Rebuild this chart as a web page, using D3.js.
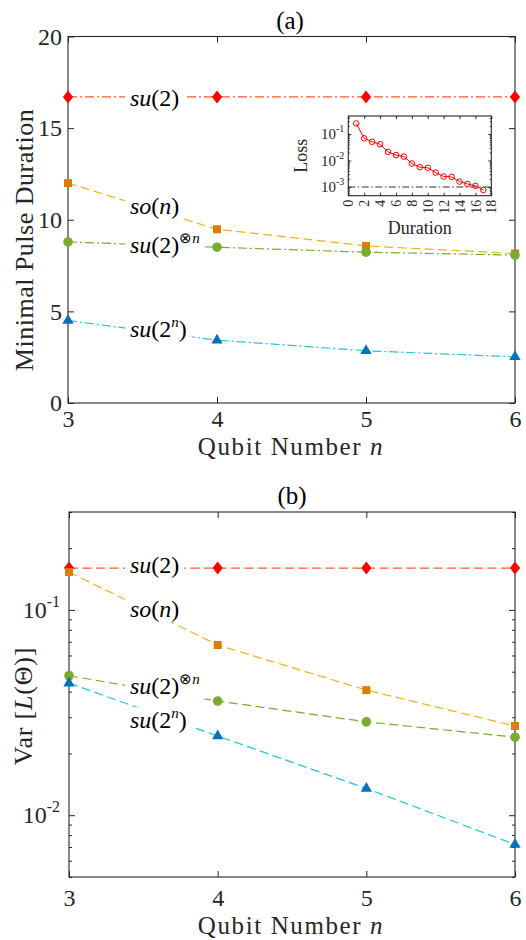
<!DOCTYPE html>
<html>
<head>
<meta charset="utf-8">
<script src="https://cdn.jsdelivr.net/npm/d3@7"></script>
<style>
  body { margin: 0; background: #fff; }
  text { font-family: "Liberation Serif", "Times New Roman", serif; }
</style>
</head>
<body>
<script>
// x values shared by both panels
const qubits = [3, 4, 5, 6]

// (a) minimal pulse duration
const durSu2 = [16.7, 16.7, 16.7, 16.7]
const durSo = [12.0, 9.48, 8.57, 8.16]
const durSu2Tensor = [8.79, 8.5, 8.23, 8.07]
const durSu2Pow = [4.5, 3.43, 2.85, 2.52]
const durTicks = [0, 5, 10, 15, 20]

// (b) variance of the loss
const varSu2 = [0.16, 0.16, 0.16, 0.16]
const varSo = [0.153, 0.0675, 0.0407, 0.0272]
const varSu2Tensor = [0.0478, 0.036, 0.0285, 0.024]
const varSu2Pow = [0.044, 0.0243, 0.0135, 0.0072]
const varTicks = [0.01, 0.1]

// inset: loss vs duration
const insetDuration = [1, 2, 3, 4, 5, 6, 7, 8, 9, 10, 11, 12, 13, 14, 15, 16, 17]
const insetLoss = [0.25, 0.069, 0.051, 0.041, 0.021, 0.016, 0.014, 0.0077, 0.0056, 0.0053,
  0.0035, 0.0025, 0.0024, 0.0016, 0.0013, 0.0011, 0.00077]
const lossTarget = 0.001
const insetXTicks = [0, 2, 4, 6, 8, 10, 12, 14, 16, 18]
const insetYTicks = [0.001, 0.01, 0.1]

const ink = '#262626'

// marker shapes
const diamond = {
  draw(ctx, size) {
    const h = Math.sqrt(size) * 0.62, w = h * 0.78
    ctx.moveTo(0, -h); ctx.lineTo(w, 0); ctx.lineTo(0, h); ctx.lineTo(-w, 0); ctx.closePath()
  }
}

const styles = {
  su2: { marker: '#ff0000', line: '#ff5a28', symbol: diamond, size: 110 },
  so: { marker: '#e07b0a', line: '#edb120', symbol: d3.symbolSquare, size: 64 },
  su2Tensor: { marker: '#77ac30', line: '#77ac30', symbol: d3.symbolCircle, size: 72 },
  su2Pow: { marker: '#0072bd', line: '#22c5dc', symbol: d3.symbolTriangle, size: 55 }
}

const dashDot = '9,3,2,3'
const dashed = '9,4.5'

const svg = d3.select('body').append('svg')
  .attr('width', 526)
  .attr('height', 940)

function minorTicks(lo, hi) {
  const out = []
  for (let e = -5; e <= 1; e++) {
    for (let m = 2; m <= 9; m++) {
      const v = m * Math.pow(10, e)
      if (v >= lo * 0.999 && v <= hi * 1.001) out.push(v)
    }
  }
  return out
}

function powerLabels(sel, sup, dy) {
  sel.selectAll('text').each(function (d) {
    const t = d3.select(this).text(null)
    t.append('tspan').text('10')
    t.append('tspan').attr('dy', dy).attr('font-size', sup).text(Math.round(Math.log10(d)))
  })
}

function frame(g, x, y, w, h, opt) {
  // bottom
  const bottom = g.append('g')
    .attr('transform', `translate(0,${h})`)
    .call(d3.axisBottom(x).tickValues(opt.xTicks).tickSizeInner(-opt.tick).tickSizeOuter(0)
      .tickPadding(opt.xPad).tickFormat(opt.xFormat))
    .attr('color', ink).attr('font-size', opt.font).attr('font-family', null)
  g.append('g')
    .call(d3.axisTop(x).tickValues(opt.xTicks).tickSizeInner(-opt.tick).tickSizeOuter(0).tickFormat(''))
    .attr('color', ink)
  // left
  const left = g.append('g')
    .call(d3.axisLeft(y).tickValues(opt.yTicks).tickSizeInner(-opt.tick).tickSizeOuter(0)
      .tickPadding(opt.yPad).tickFormat(opt.log ? '' : d3.format('d')))
    .attr('color', ink).attr('font-size', opt.font).attr('font-family', null)
  if (opt.log) powerLabels(left, opt.sup, opt.supDy)
  g.append('g')
    .attr('transform', `translate(${w},0)`)
    .call(d3.axisRight(y).tickValues(opt.yTicks).tickSizeInner(-opt.tick).tickSizeOuter(0).tickFormat(''))
    .attr('color', ink)
  if (opt.log) {
    const mt = minorTicks(y.domain()[0], y.domain()[1])
    g.append('g')
      .call(d3.axisLeft(y).tickValues(mt).tickSizeInner(-opt.tick / 2).tickSizeOuter(0).tickFormat(''))
      .attr('color', ink)
    g.append('g').attr('transform', `translate(${w},0)`)
      .call(d3.axisRight(y).tickValues(mt).tickSizeInner(-opt.tick / 2).tickSizeOuter(0).tickFormat(''))
      .attr('color', ink)
  }
  g.selectAll('.domain').remove()
  g.selectAll('.tick line').attr('stroke-width', 1)
  g.append('rect')
    .attr('width', w).attr('height', h)
    .attr('fill', 'none').attr('stroke', ink).attr('stroke-width', 1.1)
  return bottom
}

function series(g, x, y, values, st, dash) {
  const pts = qubits.map((q, i) => [q, values[i]])
  g.append('path')
    .datum(pts)
    .attr('fill', 'none')
    .attr('stroke', st.line)
    .attr('stroke-width', 1.2)
    .attr('stroke-dasharray', dash)
    .attr('d', d3.line().x(d => x(d[0])).y(d => y(d[1])))
  return pts
}

function markers(g, x, y, pts, st) {
  g.selectAll(null).data(pts).enter().append('path')
    .attr('transform', d => `translate(${x(d[0])},${y(d[1])})`)
    .attr('fill', st.marker)
    .attr('d', d3.symbol().type(st.symbol).size(st.size))
}

// math-style label with white box; parts: [text, italic, sup]
function label(g, px, py, parts) {
  const t = g.append('text').attr('x', px).attr('y', py).attr('font-size', 24).attr('fill', '#000')
  let raised = false
  parts.forEach(p => {
    const s = t.append('tspan').text(p[0])
    if (p[1]) s.attr('font-style', 'italic')
    if (p[2] && !raised) { s.attr('dy', -10).attr('font-size', 15); raised = true }
    else if (!p[2] && raised) { s.attr('dy', 10); raised = false }
    else if (p[2]) s.attr('font-size', 15)
  })
  const b = t.node().getBBox()
  g.insert('rect', () => t.node())
    .attr('x', b.x - 5).attr('y', b.y + 2).attr('width', b.width + 10).attr('height', b.height - 2)
    .attr('fill', '#fff')
}

const su2Parts = [['su', true], ['(2)', false]]
const soParts = [['so', true], ['(', false], ['n', true], [')', false]]
const tensorParts = [['su', true], ['(2)', false], ['\u2297', false, true], ['n', true, true]]
const powParts = [['su', true], ['(2', false], ['n', true, true], [')', false]]

// ---------- panel (a) ----------
const A = { left: 68, top: 36.5, w: 447, h: 366.5 }
const ga = svg.append('g').attr('transform', `translate(${A.left},${A.top})`)
const xa = d3.scaleLinear().domain([3, 6]).range([0, A.w])
const ya = d3.scaleLinear().domain([0, 20]).range([A.h, 0])

frame(ga, xa, ya, A.w, A.h, {
  xTicks: qubits, yTicks: durTicks, tick: 6, font: 24, xPad: 7, yPad: 6,
  xFormat: d3.format('d'), log: false
})

const aSets = [
  [durSu2, styles.su2, dashDot],
  [durSo, styles.so, dashed],
  [durSu2Tensor, styles.su2Tensor, dashDot],
  [durSu2Pow, styles.su2Pow, dashDot]
]
const aPts = aSets.map(s => series(ga, xa, ya, s[0], s[1], s[2]))

const labA = ga.append('g')
label(labA, xa(3.416), ya(16.19), su2Parts)
label(labA, xa(3.416), ya(10.3), soParts)
label(labA, xa(3.416), ya(8.17), tensorParts)
label(labA, xa(3.416), ya(3.6), powParts)

aSets.forEach((s, i) => markers(ga, xa, ya, aPts[i], s[1]))

// inset
const I = { left: 348.3, top: 116, w: 143, h: 79.7 }
const gi = svg.append('g').attr('transform', `translate(${I.left},${I.top})`)
const xi = d3.scaleLinear().domain([0, 18]).range([0, I.w])
const yi = d3.scaleLog().domain([Math.pow(10, -3.33), Math.pow(10, -0.32)]).range([I.h, 0])
gi.append('rect').attr('width', I.w).attr('height', I.h).attr('fill', '#fff')

const insetBottom = frame(gi, xi, yi, I.w, I.h, {
  xTicks: insetXTicks, yTicks: insetYTicks, tick: 3, font: 15, xPad: 4, yPad: 4,
  xFormat: d3.format('d'), log: true, sup: 10, supDy: -7
})
// duration tick labels stand upright
insetBottom.selectAll('text')
  .attr('font-size', 14)
  .attr('transform', 'rotate(-90)')
  .attr('x', -4).attr('y', 0).attr('dy', '0.33em')
  .attr('text-anchor', 'end')

gi.append('line')
  .attr('x1', xi(0)).attr('x2', xi(18))
  .attr('y1', yi(lossTarget)).attr('y2', yi(lossTarget))
  .attr('stroke', '#333').attr('stroke-width', 1.1).attr('stroke-dasharray', '7,2.5,1.5,2.5')

const lossPts = insetDuration.map((d, i) => [d, insetLoss[i]])
gi.append('path')
  .datum(lossPts)
  .attr('fill', 'none').attr('stroke', '#ff0000').attr('stroke-width', 1)
  .attr('d', d3.line().x(d => xi(d[0])).y(d => yi(d[1])))
gi.selectAll(null).data(lossPts).enter().append('circle')
  .attr('cx', d => xi(d[0])).attr('cy', d => yi(d[1])).attr('r', 2.8)
  .attr('fill', 'none').attr('stroke', '#ff0000').attr('stroke-width', 1)

gi.append('text')
  .attr('transform', `translate(-41,${I.h / 2}) rotate(-90)`)
  .attr('text-anchor', 'middle').attr('font-size', 18).attr('fill', ink)
  .text('Loss')
gi.append('text')
  .attr('x', I.w / 2).attr('y', 118)
  .attr('text-anchor', 'middle').attr('font-size', 18).attr('fill', ink)
  .text('Duration')

// titles and axis labels (a)
svg.append('text').attr('x', 290).attr('y', 29).attr('text-anchor', 'middle')
  .attr('font-size', 25).attr('fill', '#000').text('(a)')
svg.append('text')
  .attr('transform', 'translate(33,240) rotate(-90)')
  .attr('text-anchor', 'middle').attr('font-size', 26).attr('letter-spacing', 0.5).attr('fill', ink)
  .text('Minimal Pulse Duration')
const xla = svg.append('text').attr('x', 291).attr('y', 455).attr('text-anchor', 'middle')
  .attr('font-size', 25).attr('letter-spacing', 1.6).attr('fill', ink)
xla.append('tspan').text('Qubit Number ')
xla.append('tspan').attr('font-style', 'italic').text('n')

// ---------- panel (b) ----------
const B = { left: 69, top: 512, w: 446, h: 365 }
const gb = svg.append('g').attr('transform', `translate(${B.left},${B.top})`)
const xb = d3.scaleLinear().domain([3, 6]).range([0, B.w])
const yb = d3.scaleLog().domain([0.005, 0.3]).range([B.h, 0])

frame(gb, xb, yb, B.w, B.h, {
  xTicks: qubits, yTicks: varTicks, tick: 6, font: 24, xPad: 12, yPad: 9,
  xFormat: d3.format('d'), log: true, sup: 16, supDy: -11
})

const bSets = [
  [varSu2, styles.su2],
  [varSo, styles.so],
  [varSu2Tensor, styles.su2Tensor],
  [varSu2Pow, styles.su2Pow]
]
const bPts = bSets.map(s => series(gb, xb, yb, s[0], s[1], dashed))

const labB = gb.append('g')
label(labB, xb(3.41), yb(0.1516), su2Parts)
label(labB, xb(3.41), yb(0.0925), soParts)
label(labB, xb(3.41), yb(0.0389), tensorParts)
label(labB, xb(3.41), yb(0.0265), powParts)

bSets.forEach((s, i) => markers(gb, xb, yb, bPts[i], s[1]))

svg.append('text').attr('x', 292).attr('y', 504).attr('text-anchor', 'middle')
  .attr('font-size', 25).attr('fill', '#000').text('(b)')
const yl = svg.append('text')
  .attr('transform', 'translate(32,706) rotate(-90)')
  .attr('text-anchor', 'middle').attr('font-size', 26).attr('letter-spacing', 0.8).attr('fill', ink)
yl.append('tspan').text('Var [')
yl.append('tspan').attr('font-style', 'italic').text('L')
yl.append('tspan').text('(\u0398)]')
const xlb = svg.append('text').attr('x', 291).attr('y', 934).attr('text-anchor', 'middle')
  .attr('font-size', 25).attr('letter-spacing', 1.6).attr('fill', ink)
xlb.append('tspan').text('Qubit Number ')
xlb.append('tspan').attr('font-style', 'italic').text('n')
</script>
</body>
</html>
